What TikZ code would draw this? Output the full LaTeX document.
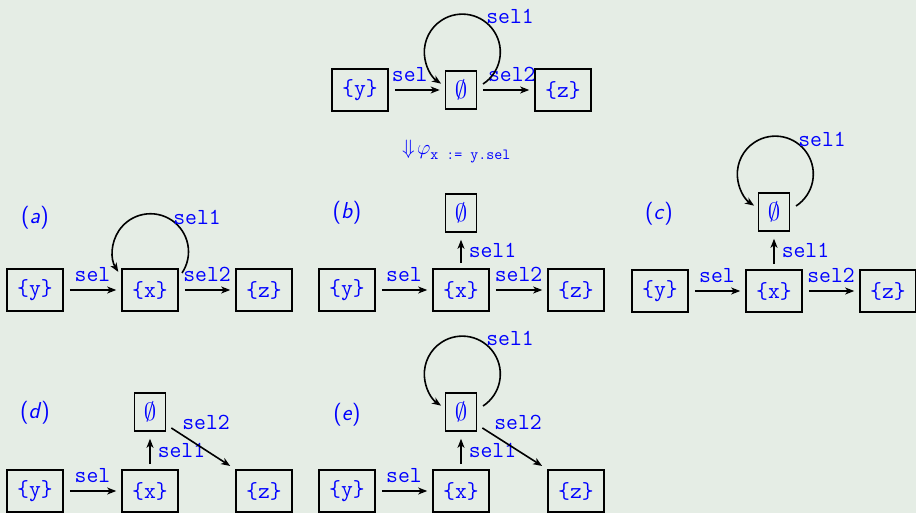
\documentclass[tikz,border=0pt]{standalone}
\usetikzlibrary{arrows.meta,calc}
\definecolor{bg}{RGB}{229,237,229}
\tikzset{
 box/.style={draw=black, line width=1.6pt, minimum width=56pt, minimum height=42pt, inner sep=0pt, text=blue, font=\fontsize{23}{26}\selectfont\ttfamily},
 ebox/.style={box, minimum width=31pt, minimum height=38pt},
 arr/.style={line width=1.6pt, -{Stealth[length=9pt,width=7pt,inset=2.5pt]}},
 hor/.style={arr, shorten <=6pt, shorten >=5pt},
 ver/.style={arr, shorten <=5pt, shorten >=7pt},
 lbl/.style={text=blue, font=\fontsize{23}{26}\selectfont\ttfamily, inner sep=0pt},
 paneltag/.style={text=blue, font=\fontsize{23}{26}\selectfont\sffamily},
}
\newcommand\ptag[1]{(\textsl{#1})}
\begin{document}
\begin{tikzpicture}[x=1pt,y=-1pt]
\fill[bg] (0,0) rectangle (916,513);
\useasboundingbox (0,0) rectangle (916,513);

% ---------- top ----------
\node[box] (ty) at (360,90) {\{y\}};
\node[ebox] (te) at (461,90) {$\emptyset$};
\node[box] (tz) at (563,90) {\{z\}};
\draw[hor] (ty) -- node[lbl, above=8pt, xshift=-7pt] (tl0) {sel} (te);
\draw[hor] (te) -- node[lbl, above=8pt, xshift=6pt] (tl2) {sel2} (tz);
\draw[arr] ($(te)+(22,-6)$) arc[start angle=57, end angle=-236, radius=38];
\node[lbl] (tl1) at ($(te)+(49,-74)$) {sel1};
\node[text=blue, anchor=base west, inner sep=0pt] (tr) at (402,155)
 {{\fontsize{22}{24}\selectfont$\Downarrow\!\varphi$}\raisebox{-5pt}{\fontsize{15.5}{17}\selectfont\ttfamily x := y.sel}};

% ---------- (a) ----------
\node[paneltag] (ta) at (35,218) {\ptag{a}};
\node[box] (ay) at (35,290) {\{y\}};
\node[box] (ax) at (150,290) {\{x\}};
\node[box] (az) at (264,290) {\{z\}};
\draw[hor] (ay) -- node[lbl, above=8pt] (al0) {sel} (ax);
\draw[hor] (ax) -- node[lbl, above=8pt] (al2) {sel2} (az);
\draw[arr] ($(ax)+(32,-17)$) arc[start angle=34, end angle=-212, radius=38];
\node[lbl] (al1) at ($(ax)+(47,-73)$) {sel1};

% ---------- (b) ----------
\node[paneltag] (tb) at (347,213) {\ptag{b}};
\node[box] (by) at (347,290) {\{y\}};
\node[box] (bx) at (461,290) {\{x\}};
\node[box] (bz) at (576,290) {\{z\}};
\node[ebox] (be) at (461,213) {$\emptyset$};
\draw[hor] (by) -- node[lbl, above=8pt] (bl0) {sel} (bx);
\draw[hor] (bx) -- node[lbl, above=8pt] (bl2) {sel2} (bz);
\draw[ver] (bx) -- node[lbl, right=7pt] (bl1) {sel1} (be);

% ---------- (c) ----------
\node[paneltag] (tc) at (659,214) {\ptag{c}};
\node[box] (cy) at (660,291) {\{y\}};
\node[box] (cx) at (774,291) {\{x\}};
\node[box] (cz) at (888,291) {\{z\}};
\node[ebox] (ce) at (774,212) {$\emptyset$};
\draw[hor] (cy) -- node[lbl, above=8pt] (cl0) {sel} (cx);
\draw[hor] (cx) -- node[lbl, above=8pt] (cl2) {sel2} (cz);
\draw[ver] (cx) -- node[lbl, right=7pt] (cl1) {sel1} (ce);
\draw[arr] ($(ce)+(22,-6)$) arc[start angle=57, end angle=-236, radius=38];
\node[lbl] (cl3) at ($(ce)+(48,-73)$) {sel1};

% ---------- (d) ----------
\node[paneltag] (td) at (35,413) {\ptag{d}};
\node[box] (dy) at (35,491) {\{y\}};
\node[box] (dx) at (150,491) {\{x\}};
\node[box] (dz) at (264,491) {\{z\}};
\node[ebox] (de) at (150,412) {$\emptyset$};
\draw[hor] (dy) -- node[lbl, above=8pt] (dl0) {sel} (dx);
\draw[ver] (dx) -- node[lbl, right=7pt] (dl1) {sel1} (de);
\draw[arr, shorten <=6pt, shorten >=6pt] (de.-38) -- (dz.north west);
\node[lbl] (dl2) at ($(de)+(56,10)$) {sel2};

% ---------- (e) ----------
\node[paneltag] (tee) at (347,415) {\ptag{e}};
\node[box] (ey) at (347,491) {\{y\}};
\node[box] (ex) at (461,491) {\{x\}};
\node[box] (ez) at (576,491) {\{z\}};
\node[ebox] (ee) at (461,412) {$\emptyset$};
\draw[hor] (ey) -- node[lbl, above=8pt] (el0) {sel} (ex);
\draw[ver] (ex) -- node[lbl, right=7pt] (el1) {sel1} (ee);
\draw[arr, shorten <=6pt, shorten >=6pt] (ee.-38) -- (ez.north west);
\node[lbl] (el2) at ($(ee)+(57,10)$) {sel2};
\draw[arr] ($(ee)+(22,-6)$) arc[start angle=57, end angle=-236, radius=38];
\node[lbl] (el3) at ($(ee)+(49,-74)$) {sel1};
\end{tikzpicture}
\end{document}
